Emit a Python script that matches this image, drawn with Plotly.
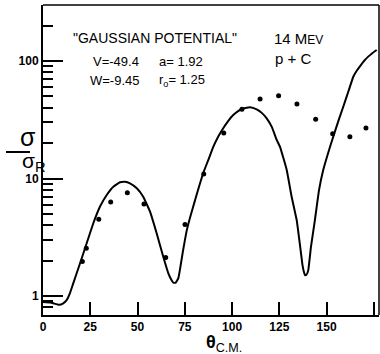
import plotly.graph_objects as go

# measured data points (theta c.m. in degrees, sigma/sigma_R)
data_theta = [20.8, 22.9, 29.5, 35.8, 44.6, 53.4, 64.9, 75.1, 85.0, 95.6,
              105.2, 114.8, 124.6, 134.3, 144.2, 153.2, 162.3, 170.8]
data_ratio = [1.97, 2.55, 4.50, 6.31, 7.57, 6.07, 2.13, 4.06, 10.9, 24.4,
              38.8, 47.5, 50.7, 43.1, 31.9, 24.1, 22.7, 26.9]

# optical-model curve ("Gaussian potential")
curve_theta = [0, 4, 6, 8.6, 10.5, 12.5, 14.2, 16, 19.6, 23.1, 26.6, 30.1, 33.7, 37.2,
               40.7, 43.4, 46.0, 49.6, 53.0, 56.6, 60.1, 63.6, 66.3, 67.8, 68.9, 70.2, 71.6,
               74, 76, 78, 80, 82.5, 84.8, 87.5, 90.1, 92.7, 95.3, 98, 100.6, 103.2, 105.9,
               109.5, 113.0, 115.7, 118.3, 121, 123.6, 125.3, 127.1, 128.9, 131.5, 134.2,
               135.8, 137.2, 138.0, 138.6, 139.4, 140.3, 141.7, 143.8, 146, 148.2, 150.8,
               153.5, 156.1, 158.8, 161.5, 164.1, 166, 168, 170, 172, 174, 176.5]
curve_ratio = [0.89, 0.88, 0.86, 0.84, 0.86, 0.92, 1.05, 1.28, 1.90, 2.81, 4.16, 5.75,
               7.24, 8.51, 9.28, 9.39, 9.1, 8.26, 7.0, 5.22, 3.42, 2.16, 1.56, 1.38, 1.30,
               1.30, 1.42, 2.4, 3.6, 4.8, 6.2, 8.5, 11.2, 14.5, 18.7, 22.8, 26.8, 31.0, 34.7,
               37.5, 39.5, 40.4, 38.8, 36.2, 32.5, 27.5, 21.3, 18.7, 15.0, 11.8, 7.0, 4.4,
               2.8, 1.85, 1.6, 1.5, 1.52, 1.66, 2.6, 4.43, 8.0, 11.8, 16.5, 22.7, 30.5,
               40.8, 55.0, 73.5, 83, 92, 101, 109, 116, 124]

x_ticks = [0, 25, 50, 75, 100, 125, 150, 175]
y_major = [1, 10, 100]
y_minor = [0.7, 0.8, 0.9, 2, 3, 4, 5, 6, 7, 8, 9, 20, 30, 40, 50, 60, 70, 80, 90, 200]

W, H = 380, 354
L, R, T, B = 43, 1, 5, 39
pw, ph = W - L - R, H - T - B


def px(x):
    return (x - L) / pw


def py(y):
    return (H - B - y) / ph


FONT = "Liberation Sans"

fig = go.Figure()
fig.add_trace(go.Scatter(x=curve_theta, y=curve_ratio, mode="lines",
                         line=dict(color="black", width=2, shape="spline", smoothing=0.3),
                         hoverinfo="skip", showlegend=False))
fig.add_trace(go.Scatter(x=data_theta, y=data_ratio, mode="markers",
                         marker=dict(color="black", size=5), showlegend=False))

fig.update_xaxes(range=[0, 177.7], showgrid=False, zeroline=False,
                 showline=True, linecolor="black", linewidth=2,
                 tickvals=x_ticks, ticktext=[f"<b>{v}</b>" for v in x_ticks],
                 ticks="inside", ticklen=13, tickwidth=1.5, tickcolor="black",
                 tickfont=dict(family=FONT, size=12, color="black"))
fig.update_yaxes(type="log", range=[-0.162, 2.477], showgrid=False, zeroline=False,
                 showline=True, linecolor="black", linewidth=2,
                 tickvals=y_major, ticktext=["<b>1</b>", "<b>10</b>", "<b>100</b>"],
                 ticks="inside", ticklen=20, tickwidth=1.5, tickcolor="black",
                 tickfont=dict(family=FONT, size=12, color="black"),
                 minor=dict(tickvals=y_minor, ticks="inside", ticklen=10,
                            tickwidth=1.5, tickcolor="black", showgrid=False))

# top and right frame lines
fig.add_shape(type="line", xref="paper", yref="paper", x0=0, x1=1, y0=1, y1=1,
              line=dict(color="black", width=1.5))
fig.add_shape(type="line", xref="paper", yref="paper", x0=1, x1=1, y0=0, y1=1,
              line=dict(color="black", width=1.5))

texts = [
    ('"GAUSSIAN POTENTIAL"', 155, 38, 14),
    ("14 M<span style='font-size:12px'>EV</span>", 298, 38, 15),
    ("p + C", 293, 58, 15),
    ("V=-49.4", 116, 62, 13),
    ("W=-9.45", 115, 80, 13),
    ("a= 1.92", 181, 62, 13),
    ("r<sub>o</sub>= 1.25", 182, 80, 13),
]
for t, x, y, s in texts:
    fig.add_annotation(text=t, x=px(x), y=py(y), xref="paper", yref="paper",
                       showarrow=False, font=dict(family=FONT, size=s, color="black"),
                       xanchor="center", yanchor="middle")

# y-axis label as a fraction
fig.add_annotation(text="σ", x=px(18), y=py(137), xref="paper", yref="paper",
                   showarrow=False, font=dict(family=FONT, size=25, color="black"))
fig.add_shape(type="line", xref="paper", yref="paper", x0=px(6), x1=px(30),
              y0=py(152), y1=py(152), line=dict(color="black", width=2))
fig.add_annotation(text="σ<sub>R</sub>", x=px(20), y=py(162), xref="paper", yref="paper",
                   showarrow=False, font=dict(family=FONT, size=21, color="black"))

# x-axis label
fig.add_annotation(text="<b>θ</b><sub>C.M.</sub>", x=px(204), y=py(343), xref="paper", yref="paper",
                   showarrow=False, font=dict(family=FONT, size=18, color="black"),
                   xanchor="left", yanchor="middle")

fig.update_layout(width=W, height=H, margin=dict(l=L, r=R, t=T, b=B),
                  paper_bgcolor="white", plot_bgcolor="white")

fig.write_html("out.html")
